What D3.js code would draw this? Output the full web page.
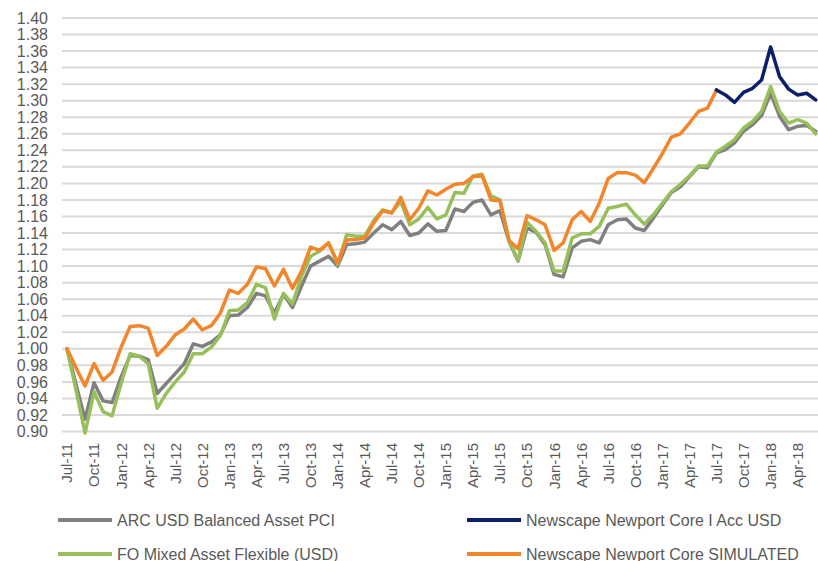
<!DOCTYPE html>
<html lang='en'>
<head>
	<meta charset='UTF-8'/>
	<title>Newscape Newport Core</title>
	<script src='https://cdnjs.cloudflare.com/ajax/libs/d3/7.8.5/d3.min.js'></script>
	<style>
		body {margin: 0; background: #fff;}
		svg {display: block; font-family: 'Liberation Sans', Arial, sans-serif;}
		.tick-label {fill: #595959;}
		.grid {stroke: #d9d9d9; stroke-width: 2;}
		.series {fill: none; stroke-width: 3.5; stroke-linejoin: round; stroke-linecap: round;}
	</style>
</head>
<body>
	<div class='graph'></div>
	<script>
		// monthly categories Jul-11 .. Jun-18
		var months = d3.timeMonth.range(new Date(2011, 6, 1), new Date(2018, 6, 1));

		var xTickLabels = ['Jul-11', 'Oct-11', 'Jan-12', 'Apr-12', 'Jul-12', 'Oct-12', 'Jan-13', 'Apr-13',
			'Jul-13', 'Oct-13', 'Jan-14', 'Apr-14', 'Jul-14', 'Oct-14', 'Jan-15', 'Apr-15', 'Jul-15',
			'Oct-15', 'Jan-16', 'Apr-16', 'Jul-16', 'Oct-16', 'Jan-17', 'Apr-17', 'Jul-17', 'Oct-17',
			'Jan-18', 'Apr-18'];
		var yTicks = [0.90, 0.92, 0.94, 0.96, 0.98, 1.00, 1.02, 1.04, 1.06, 1.08, 1.10, 1.12, 1.14,
			1.16, 1.18, 1.20, 1.22, 1.24, 1.26, 1.28, 1.30, 1.32, 1.34, 1.36, 1.38, 1.40];

		var arcUsd = [1.000, 0.957, 0.915, 0.959, 0.937, 0.935, 0.966, 0.992, 0.991, 0.987, 0.946, 0.958,
			0.970, 0.982, 1.006, 1.003, 1.008, 1.017, 1.040, 1.041, 1.050, 1.067, 1.064, 1.043,
			1.066, 1.050, 1.076, 1.100, 1.106, 1.112, 1.100, 1.126, 1.127, 1.129, 1.140, 1.150,
			1.144, 1.154, 1.137, 1.140, 1.151, 1.142, 1.143, 1.169, 1.166, 1.177, 1.180, 1.162,
			1.167, 1.130, 1.106, 1.146, 1.141, 1.126, 1.090, 1.087, 1.122, 1.130, 1.132, 1.128,
			1.150, 1.156, 1.157, 1.146, 1.143, 1.158, 1.174, 1.189, 1.196, 1.208, 1.220, 1.219,
			1.237, 1.241, 1.249, 1.263, 1.271, 1.282, 1.309, 1.281, 1.265, 1.269, 1.270, 1.263];

		var foMixed = [1.000, 0.950, 0.898, 0.948, 0.924, 0.919, 0.958, 0.994, 0.991, 0.982, 0.928, 0.946,
			0.960, 0.972, 0.994, 0.994, 1.002, 1.016, 1.046, 1.047, 1.056, 1.078, 1.074, 1.036,
			1.067, 1.054, 1.088, 1.112, 1.118, 1.128, 1.102, 1.138, 1.136, 1.136, 1.155, 1.168,
			1.165, 1.178, 1.150, 1.157, 1.171, 1.157, 1.162, 1.189, 1.188, 1.209, 1.211, 1.185,
			1.180, 1.131, 1.107, 1.153, 1.142, 1.128, 1.094, 1.094, 1.134, 1.139, 1.139, 1.148,
			1.170, 1.172, 1.175, 1.162, 1.151, 1.162, 1.176, 1.190, 1.199, 1.209, 1.221, 1.221,
			1.238, 1.245, 1.253, 1.267, 1.275, 1.287, 1.317, 1.287, 1.273, 1.277, 1.273, 1.260];

		// simulated track record up to Jul-17
		var coreSimulated = [1.000, 0.977, 0.955, 0.982, 0.962, 0.972, 1.002, 1.027, 1.028, 1.025, 0.992, 1.003,
			1.017, 1.024, 1.036, 1.023, 1.028, 1.043, 1.071, 1.067, 1.078, 1.099, 1.097, 1.076,
			1.096, 1.073, 1.094, 1.123, 1.119, 1.128, 1.104, 1.132, 1.132, 1.134, 1.152, 1.167,
			1.164, 1.183, 1.156, 1.170, 1.191, 1.186, 1.193, 1.199, 1.200, 1.208, 1.210, 1.180,
			1.179, 1.131, 1.121, 1.161, 1.156, 1.150, 1.119, 1.128, 1.156, 1.166, 1.154, 1.176,
			1.206, 1.213, 1.213, 1.210, 1.201, 1.218, 1.236, 1.256, 1.260, 1.273, 1.287, 1.291,
			1.313];

		// live fund from Jul-17
		var coreAccUsd = [1.313, 1.307, 1.298, 1.310, 1.315, 1.325, 1.365, 1.329, 1.314, 1.307, 1.309, 1.301];
		var coreAccStart = 72;

		var series = [
			{name: 'ARC USD Balanced Asset PCI', color: '#808080', values: arcUsd, start: 0},
			{name: 'FO Mixed Asset Flexible (USD)', color: '#98c05a', values: foMixed, start: 0},
			{name: 'Newscape Newport Core SIMULATED', color: '#f3852b', values: coreSimulated, start: 0},
			{name: 'Newscape Newport Core I Acc USD', color: '#0b1f6b', values: coreAccUsd, start: coreAccStart}
		];

		var width = 818, height = 561;
		var margin = {top: 18, right: 0, bottom: 129, left: 62};
		var fmtMonth = d3.timeFormat('%b-%y');

		var svg = d3.select('.graph')
			.append('svg')
			.attr('width', width)
			.attr('height', height);

		var x = d3.scalePoint()
			.domain(months.map(fmtMonth))
			.range([67, 815.7]);

		var y = d3.scaleLinear()
			.domain([0.90, 1.40])
			.range([431.5, 18]);

		// gridlines
		svg.append('g')
			.selectAll('line')
			.data(yTicks)
			.enter()
			.append('line')
			.attr('class', 'grid')
			.attr('x1', margin.left)
			.attr('x2', width)
			.attr('y1', d => y(d))
			.attr('y2', d => y(d));

		// y axis labels
		var yAxis = svg.append('g')
			.attr('transform', 'translate(' + margin.left + ',0)')
			.call(d3.axisLeft(y).tickValues(yTicks).tickFormat(d3.format('.2f')).tickSize(0).tickPadding(14));
		yAxis.select('.domain').remove();
		yAxis.selectAll('text')
			.attr('class', 'tick-label')
			.style('font-size', '16px')
			.style('font-family', "'Liberation Sans', Arial, sans-serif");

		// x axis labels, rotated
		svg.append('g')
			.selectAll('text')
			.data(xTickLabels)
			.enter()
			.append('text')
			.attr('class', 'tick-label')
			.attr('transform', d => 'translate(' + x(d) + ',443) rotate(-90)')
			.attr('text-anchor', 'end')
			.attr('dy', '0.36em')
			.style('font-size', '15px')
			.text(d => d);

		// lines
		var line = d3.line()
			.x(d => x(d.m))
			.y(d => y(d.v));

		svg.append('g')
			.selectAll('path')
			.data(series)
			.enter()
			.append('path')
			.attr('class', 'series')
			.attr('stroke', d => d.color)
			.attr('d', s => line(s.values.map((v, i) => ({m: fmtMonth(months[s.start + i]), v: v}))));

		// legend
		var legendPos = [
			{s: series[0], x: 58, y: 520},
			{s: series[3], x: 467, y: 520},
			{s: series[1], x: 58, y: 554},
			{s: series[2], x: 467, y: 554}
		];
		var legend = svg.append('g')
			.selectAll('g')
			.data(legendPos)
			.enter()
			.append('g')
			.attr('transform', d => 'translate(' + d.x + ',' + d.y + ')');
		legend.append('line')
			.attr('x1', 0)
			.attr('x2', 54)
			.attr('stroke', d => d.s.color)
			.attr('stroke-width', 4);
		legend.append('text')
			.attr('x', 59)
			.attr('dy', '0.36em')
			.style('font-size', '16px')
			.style('fill', '#595959')
			.text(d => d.s.name);
	</script>
</body>
</html>
